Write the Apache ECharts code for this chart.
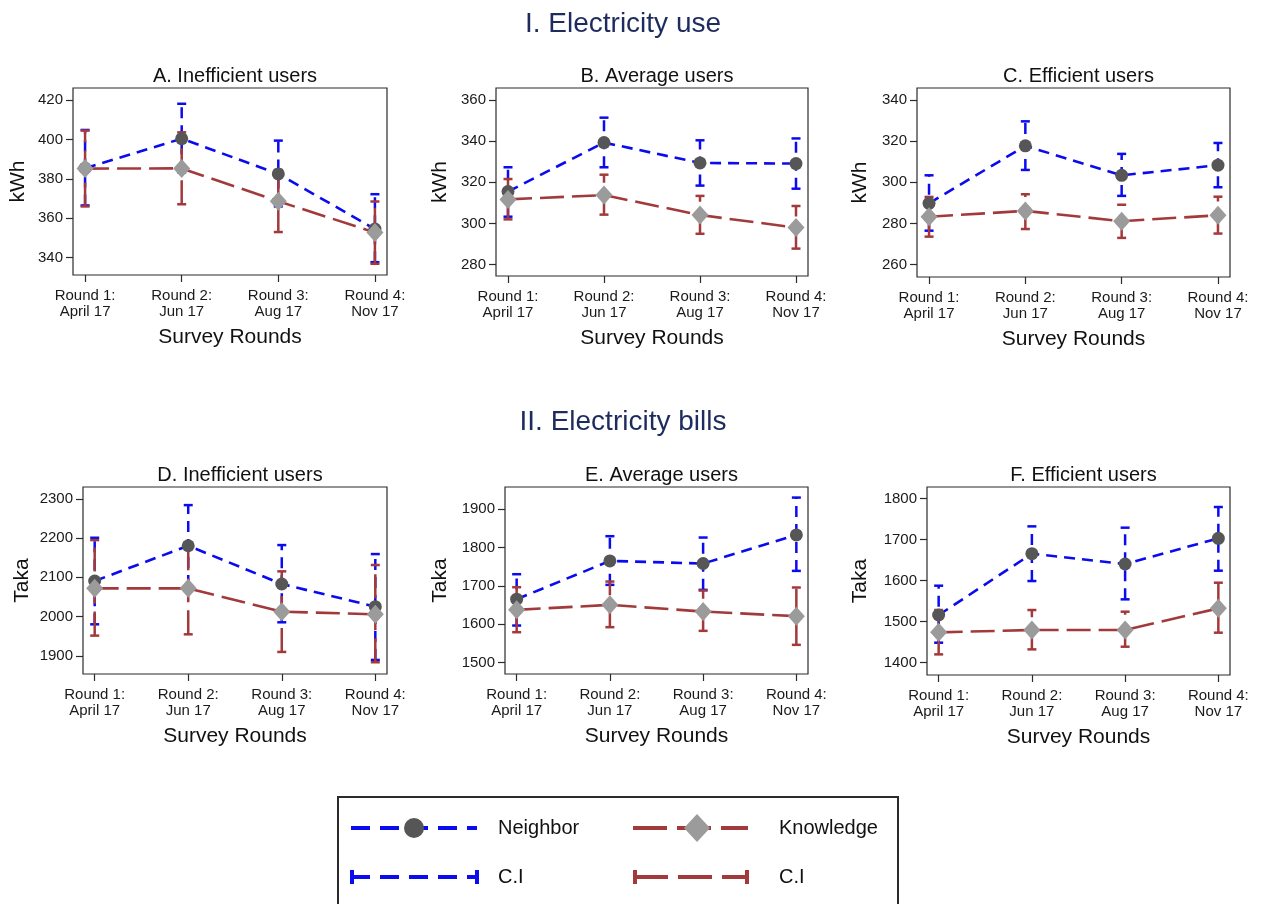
<!DOCTYPE html>
<html>
<head>
<meta charset="utf-8">
<script src="https://cdn.jsdelivr.net/npm/echarts@6/dist/echarts.min.js"></script>
<style>
html,body{margin:0;padding:0;background:#fff;}
#chart{width:1268px;height:904px;}
</style>
</head>
<body>
<div id="chart"></div>
<script>
// ---------- DATA ----------
const categories = ['Round 1:\nApril 17', 'Round 2:\nJun 17', 'Round 3:\nAug 17', 'Round 4:\nNov 17'];
const sectionTitles = ['I. Electricity use', 'II. Electricity bills'];
const panelTitles = ['A. Inefficient users', 'B. Average users', 'C. Efficient users',
                     'D. Inefficient users', 'E. Average users', 'F. Efficient users'];
const yNames = ['kWh', 'kWh', 'kWh', 'Taka', 'Taka', 'Taka'];
const xName = 'Survey Rounds';

const yTicksA = [340, 360, 380, 400, 420];
const yTicksB = [280, 300, 320, 340, 360];
const yTicksC = [260, 280, 300, 320, 340];
const yTicksD = [1900, 2000, 2100, 2200, 2300];
const yTicksE = [1500, 1600, 1700, 1800, 1900];
const yTicksF = [1400, 1500, 1600, 1700, 1800];

// Panel A
const aNeighbor = [385.4, 400.4, 382.5, 354.5];
const aNeighborLo = [366.5, 383.3, 366.0, 337.7];
const aNeighborHi = [404.8, 418.1, 399.4, 372.2];
const aKnowledge = [385.2, 385.3, 368.6, 352.8];
const aKnowledgeLo = [366.0, 367.1, 353.0, 336.9];
const aKnowledgeHi = [404.5, 403.6, 384.5, 368.5];
// Panel B
const bNeighbor = [315.5, 339.3, 329.4, 329.1];
const bNeighborLo = [303.3, 327.3, 318.4, 316.9];
const bNeighborHi = [327.3, 351.4, 340.4, 341.3];
const bKnowledge = [311.7, 313.8, 304.1, 298.0];
const bKnowledgeLo = [302.0, 304.3, 295.0, 287.8];
const bKnowledgeHi = [321.6, 323.7, 313.4, 308.5];
// Panel C
const cNeighbor = [289.8, 317.7, 303.4, 308.3];
const cNeighborLo = [276.5, 306.0, 293.4, 297.6];
const cNeighborHi = [303.4, 329.6, 313.8, 319.1];
const cKnowledge = [283.3, 286.1, 281.1, 284.0];
const cKnowledgeLo = [273.6, 277.3, 273.0, 275.1];
const cKnowledgeHi = [292.9, 294.2, 289.1, 293.0];
// Panel D
const dNeighbor = [2090.7, 2180.5, 2083.1, 2025.4];
const dNeighborLo = [1980.5, 2078.0, 1985.6, 1889.8];
const dNeighborHi = [2200.8, 2283.9, 2182.2, 2159.3];
const dKnowledge = [2072.0, 2072.0, 2012.7, 2005.9];
const dKnowledgeLo = [1951.7, 1955.0, 1910.2, 1883.9];
const dKnowledgeHi = [2194.9, 2189.0, 2115.3, 2131.4];
// Panel E
const eNeighbor = [1665.2, 1765.2, 1758.3, 1833.0];
const eNeighborLo = [1596.5, 1702.6, 1689.6, 1739.1];
const eNeighborHi = [1730.4, 1829.6, 1826.1, 1930.4];
const eKnowledge = [1637.4, 1650.4, 1633.0, 1620.9];
const eKnowledgeLo = [1579.1, 1592.2, 1582.6, 1546.1];
const eKnowledgeHi = [1696.5, 1711.3, 1687.8, 1695.7];
// Panel F
const fNeighbor = [1516.3, 1665.9, 1640.7, 1703.3];
const fNeighborLo = [1448.8, 1599.2, 1554.5, 1624.4];
const fNeighborHi = [1587.8, 1732.5, 1729.3, 1779.7];
const fKnowledge = [1474.0, 1479.7, 1479.7, 1532.5];
const fKnowledgeLo = [1420.3, 1432.5, 1439.0, 1473.2];
const fKnowledgeHi = [1528.5, 1528.5, 1524.4, 1595.1];

const legendLabels = ['Neighbor', 'Knowledge', 'C.I', 'C.I'];

// ---------- LAYOUT / STYLE ----------
const FONT = '"Liberation Sans", Arial, Helvetica, sans-serif';
const BLUE = '#0b0bef';
const RED = '#a23a3c';
const CIRCLE = '#565656';
const DIAMOND = '#9b9b9b';
const AXIS = '#2b2b2b';
const BLUE_DASH = [11, 7];
const RED_DASH = [24, 8];

const panels = [
  {grid:{left:73, top:88, width:314, height:187}, y:[331.2, 426.1], ticks:yTicksA, gap:45,
   n:aNeighbor, nLo:aNeighborLo, nHi:aNeighborHi, k:aKnowledge, kLo:aKnowledgeLo, kHi:aKnowledgeHi},
  {grid:{left:496, top:88, width:312, height:188}, y:[274.5, 365.8], ticks:yTicksB, gap:46,
   n:bNeighbor, nLo:bNeighborLo, nHi:bNeighborHi, k:bKnowledge, kLo:bKnowledgeLo, kHi:bKnowledgeHi},
  {grid:{left:917, top:88, width:313, height:189}, y:[254.0, 345.8], ticks:yTicksC, gap:47,
   n:cNeighbor, nLo:cNeighborLo, nHi:cNeighborHi, k:cKnowledge, kLo:cKnowledgeLo, kHi:cKnowledgeHi},
  {grid:{left:83, top:487, width:304, height:187}, y:[1854, 2330], ticks:yTicksD, gap:51,
   n:dNeighbor, nLo:dNeighborLo, nHi:dNeighborHi, k:dKnowledge, kLo:dKnowledgeLo, kHi:dKnowledgeHi},
  {grid:{left:505, top:487, width:303, height:187}, y:[1470, 1958], ticks:yTicksE, gap:55,
   n:eNeighbor, nLo:eNeighborLo, nHi:eNeighborHi, k:eKnowledge, kLo:eKnowledgeLo, kHi:eKnowledgeHi},
  {grid:{left:927, top:487, width:303, height:188}, y:[1370, 1828.5], ticks:yTicksF, gap:57,
   n:fNeighbor, nLo:fNeighborLo, nHi:fNeighborHi, k:fKnowledge, kLo:fKnowledgeLo, kHi:fKnowledgeHi}
];

function ciRender(color, dash) {
  return function (params, api) {
    const x = api.value(0), lo = api.value(1), hi = api.value(2);
    const pLo = api.coord([x, lo]);
    const pHi = api.coord([x, hi]);
    const hw = 4.5;
    return {
      type: 'group',
      children: [
        {type: 'line', shape: {x1: pLo[0], y1: pLo[1], x2: pHi[0], y2: pHi[1]},
         style: {stroke: color, lineWidth: 2.5, lineDash: dash}},
        {type: 'line', shape: {x1: pLo[0] - hw, y1: pLo[1], x2: pLo[0] + hw, y2: pLo[1]},
         style: {stroke: color, lineWidth: 2.5}},
        {type: 'line', shape: {x1: pHi[0] - hw, y1: pHi[1], x2: pHi[0] + hw, y2: pHi[1]},
         style: {stroke: color, lineWidth: 2.5}}
      ]
    };
  };
}

const grids = [], xAxes = [], yAxes = [], series = [], titles = [];
const xIdx = categories.map((c, i) => i + 1);

panels.forEach((p, i) => {
  grids.push(Object.assign({show: true, borderColor: AXIS, borderWidth: 1.2, backgroundColor: '#fff'}, p.grid));
  xAxes.push({
    gridIndex: i, type: 'value', min: 0.875, max: 4.125,
    axisLine: {show: false}, splitLine: {show: false},
    axisTick: {show: true, length: 7, lineStyle: {color: AXIS, width: 1.2}, customValues: xIdx},
    axisLabel: {customValues: xIdx, margin: 13, fontFamily: FONT, fontSize: 15, lineHeight: 16, color: '#1a1a1a',
      formatter: v => categories[Math.round(v) - 1]},
    name: xName, nameLocation: 'middle', nameGap: 52,
    nameTextStyle: {fontFamily: FONT, fontSize: 21, color: '#111'}
  });
  yAxes.push({
    gridIndex: i, type: 'value', min: p.y[0], max: p.y[1],
    axisLine: {show: false}, splitLine: {show: false},
    axisTick: {show: true, length: 7, lineStyle: {color: AXIS, width: 1.2}, customValues: p.ticks},
    axisLabel: {customValues: p.ticks, margin: 10, fontFamily: FONT, fontSize: 15, color: '#1a1a1a',
      formatter: v => String(v)},
    name: yNames[i], nameLocation: 'middle', nameGap: p.gap - 1, nameRotate: 90,
    nameTextStyle: {fontFamily: FONT, fontSize: 21, color: '#111'}
  });
  const cx = p.grid.left + p.grid.width / 2;
  titles.push({text: panelTitles[i], left: cx, top: p.grid.top - 27, textAlign: 'center',
    textStyle: {fontFamily: FONT, fontSize: 20, fontWeight: 'normal', color: '#111'}});

  series.push({
    type: 'custom', xAxisIndex: i, yAxisIndex: i, z: 2,
    renderItem: ciRender(BLUE, BLUE_DASH), encode: {x: 0, y: [1, 2]},
    data: p.nLo.map((lo, j) => [j + 1, lo, p.nHi[j]])
  });
  series.push({
    type: 'custom', xAxisIndex: i, yAxisIndex: i, z: 3,
    renderItem: ciRender(RED, RED_DASH), encode: {x: 0, y: [1, 2]},
    data: p.kLo.map((lo, j) => [j + 1, lo, p.kHi[j]])
  });
  series.push({
    name: legendLabels[0], type: 'line', xAxisIndex: i, yAxisIndex: i, z: 4,
    data: p.n.map((v, j) => [j + 1, v]),
    symbol: 'circle', symbolSize: 13, showSymbol: true,
    itemStyle: {color: CIRCLE},
    lineStyle: {color: BLUE, width: 2.6, type: BLUE_DASH}
  });
  series.push({
    name: legendLabels[1], type: 'line', xAxisIndex: i, yAxisIndex: i, z: 5,
    data: p.k.map((v, j) => [j + 1, v]),
    symbol: 'diamond', symbolSize: [17, 19], showSymbol: true,
    itemStyle: {color: DIAMOND},
    lineStyle: {color: RED, width: 2.6, type: RED_DASH}
  });
});

titles.push({text: sectionTitles[0], left: 618, top: 5, textAlign: 'center',
  textStyle: {fontFamily: FONT, fontSize: 28, fontWeight: 'normal', color: '#1e2b5e'}});
titles.push({text: sectionTitles[1], left: 618, top: 403, textAlign: 'center',
  textStyle: {fontFamily: FONT, fontSize: 28, fontWeight: 'normal', color: '#1e2b5e'}});

// legend drawn as graphics
const r1 = 828, r2 = 877;
const LFS = 20;
const legendGraphics = [
  {type: 'rect', shape: {x: 338, y: 797, width: 560, height: 130}, style: {fill: '#fff', stroke: AXIS, lineWidth: 2}},
  {type: 'line', shape: {x1: 351, y1: r1, x2: 477, y2: r1}, style: {stroke: BLUE, lineWidth: 4, lineDash: [19, 10]}},
  {type: 'circle', shape: {cx: 414, cy: r1, r: 10}, style: {fill: CIRCLE}},
  {type: 'text', x: 498, y: r1, style: {text: legendLabels[0], fontFamily: FONT, fontSize: LFS, fill: '#111', verticalAlign: 'middle'}},
  {type: 'line', shape: {x1: 633, y1: r1, x2: 748, y2: r1}, style: {stroke: RED, lineWidth: 4, lineDash: [34, 10]}},
  {type: 'polygon', shape: {points: [[697, r1 - 14], [710, r1], [697, r1 + 14], [684, r1]]}, style: {fill: DIAMOND}},
  {type: 'text', x: 779, y: r1, style: {text: legendLabels[1], fontFamily: FONT, fontSize: LFS, fill: '#111', verticalAlign: 'middle'}},
  {type: 'line', shape: {x1: 351, y1: r2, x2: 478, y2: r2}, style: {stroke: BLUE, lineWidth: 4, lineDash: [19, 10]}},
  {type: 'line', shape: {x1: 352, y1: r2 - 7, x2: 352, y2: r2 + 7}, style: {stroke: BLUE, lineWidth: 4}},
  {type: 'line', shape: {x1: 477, y1: r2 - 7, x2: 477, y2: r2 + 7}, style: {stroke: BLUE, lineWidth: 4}},
  {type: 'text', x: 498, y: r2, style: {text: legendLabels[2], fontFamily: FONT, fontSize: LFS, fill: '#111', verticalAlign: 'middle'}},
  {type: 'line', shape: {x1: 634, y1: r2, x2: 748, y2: r2}, style: {stroke: RED, lineWidth: 4, lineDash: [34, 10]}},
  {type: 'line', shape: {x1: 635, y1: r2 - 7, x2: 635, y2: r2 + 7}, style: {stroke: RED, lineWidth: 4}},
  {type: 'line', shape: {x1: 747, y1: r2 - 7, x2: 747, y2: r2 + 7}, style: {stroke: RED, lineWidth: 4}},
  {type: 'text', x: 779, y: r2, style: {text: legendLabels[3], fontFamily: FONT, fontSize: LFS, fill: '#111', verticalAlign: 'middle'}}
];

const chart = echarts.init(document.getElementById('chart'), null, {renderer: 'canvas'});
chart.setOption({
  backgroundColor: '#fff',
  animation: false,
  title: titles,
  grid: grids,
  xAxis: xAxes,
  yAxis: yAxes,
  series: series,
  graphic: legendGraphics
});
</script>
</body>
</html>
